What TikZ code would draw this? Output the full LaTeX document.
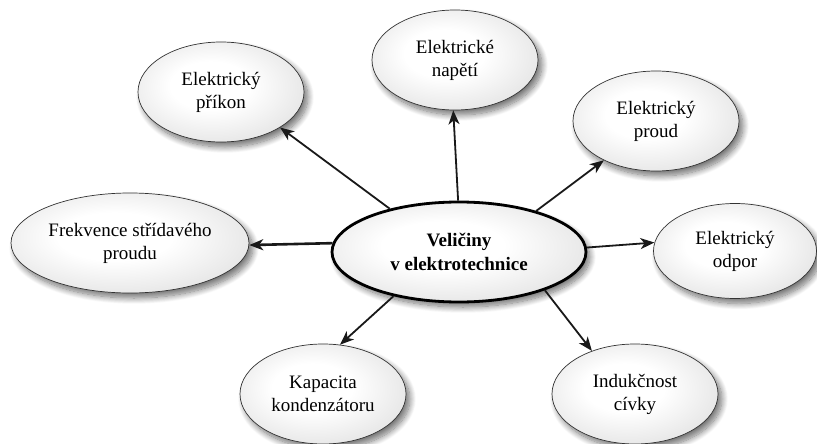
\documentclass[tikz,border=0pt]{standalone}
\usepackage{fontspec}
\setmainfont{Liberation Serif}
\usetikzlibrary{arrows.meta,shapes.geometric,shadows.blur}

\pgfdeclareradialshading{bubble}{\pgfpoint{-4bp}{4bp}}{%
  color(0bp)=(white); color(12bp)=(white); color(50bp)=(black!22); color(60bp)=(black!22)}

\tikzset{
  bubble/.style={ellipse, draw=black!80, line width=0.7pt, shading=bubble,
    minimum width=166pt, minimum height=100pt, inner sep=0pt,
    align=center, font=\fontsize{19}{23}\selectfont,
    blur shadow={shadow xshift=4pt, shadow yshift=-5pt, shadow blur steps=12,
      shadow blur radius=6pt, shadow opacity=55}},
  hub/.style={bubble, draw=black, line width=2.8pt,
    minimum width=254pt, minimum height=100pt, font=\fontsize{19}{24}\selectfont\bfseries},
  link/.style={line width=1.8pt, draw=black!90,
    -{Stealth[length=14pt,width=11pt,inset=4pt]}},
}

\begin{document}
\begin{tikzpicture}[x=1pt,y=-1pt]
\useasboundingbox (0,0) rectangle (817,444);

\node[hub] (c) at (459,252) {Veličiny\\v elektrotechnice};

\node[bubble] (prikon) at (221,92) {Elektrický\\příkon};
\node[bubble] (napeti) at (455,60) {Elektrické\\napětí};
\node[bubble] (proud) at (656,121) {Elektrický\\proud};
\node[bubble, minimum width=238pt] (frek) at (130,243) {Frekvence střídavého\\proudu};
\node[bubble, minimum width=163pt, minimum height=95pt] (odpor) at (735,251) {Elektrický\\odpor};
\node[bubble] (kap) at (323,394) {Kapacita\\kondenzátoru};
\node[bubble] (ind) at (635,394) {Indukčnost\\cívky};

\draw[link] (c.148.8) -- (prikon.329.5);
\draw[link] (c.91.5) -- (napeti.268);
\draw[link] (c.28.2) -- (proud.217);
\draw[link, line width=2.6pt] (c.176.8) -- (frek.359);
\draw[link] (c.2.7) -- (odpor.174.4);
\draw[link] (c.214.1) -- (kap.71.9);
\draw[link] (c.336.2) -- (ind.135.6);
\end{tikzpicture}
\end{document}
